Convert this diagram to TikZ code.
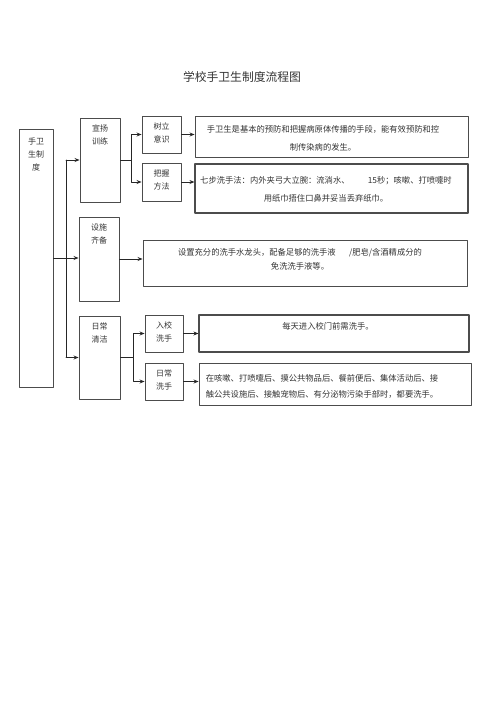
\documentclass[tikz,border=0pt]{standalone}
\usepackage{fontspec}
\newfontfamily\cjk{Noto Sans CJK SC}
\usetikzlibrary{arrows.meta}
\begin{document}
\begin{tikzpicture}[
		x=1pt,y=-1pt,
		>={Stealth[length=5pt,width=4pt]},
		line cap=round,
		line join=round,
		box/.style={draw=black!70,line width=0.9pt,inner sep=0pt},
		lbl/.style={font=\cjk\fontsize{8}{13}\selectfont,align=center,text=black!80,anchor=north,yshift=-4pt},
		desc/.style={font=\cjk\fontsize{8.3}{16}\selectfont,align=center,text=black!80,inner sep=0pt},
		link/.style={draw=black!85,line width=0.8pt}
		]
		\useasboundingbox (0,0) rectangle (500,707);
		\node[font=\cjk\fontsize{11.8}{14}\selectfont,text=black!80] (title) at (242,77) {学校手卫生制度流程图};
		% left column
		\node[box,minimum width=34pt,minimum height=258pt,label={[lbl,yshift=-2pt]north:{手卫\\生制\\度}}] (main) at (36,258) {};
		\node[box,minimum width=40pt,minimum height=84pt,label={[lbl]north:{宣扬\\训练}}] (xuan) at (100,160) {};
		\node[box,minimum width=40pt,minimum height=84pt,label={[lbl]north:{设施\\齐备}}] (sheshi) at (99,259) {};
		\node[box,minimum width=41pt,minimum height=83pt,label={[lbl]north:{日常\\清洁}}] (qingjie) at (99.5,357.5) {};
		% second column
		\node[box,minimum width=39pt,minimum height=37pt,label={[lbl]north:{树立\\意识}}] (shuli) at (161.5,134.5) {};
		\node[box,minimum width=39pt,minimum height=38pt,label={[lbl]north:{把握\\方法}}] (bawo) at (161.5,182) {};
		\node[box,minimum width=38pt,minimum height=37pt,label={[lbl]north:{入校\\洗手}}] (ruxiao) at (164,333.5) {};
		\node[box,minimum width=38pt,minimum height=37pt,label={[lbl]north:{日常\\洗手}}] (xishou) at (164,381.5) {};
		% text boxes
		\node[box,minimum width=273pt,minimum height=41pt] (d1) at (331.5,136.5) {};
		\node[box,line width=1.1pt,minimum width=273pt,minimum height=49pt] (d2) at (331.5,188.5) {};
		\node[box,minimum width=324pt,minimum height=46pt] (d3) at (305,263) {};
		\node[box,line width=1.1pt,minimum width=270pt,minimum height=37pt] (d4) at (334,333.5) {};
		\node[box,minimum width=272pt,minimum height=42pt] (d5) at (335,384) {};
		\node[desc,font=\cjk\fontsize{8.3}{18}\selectfont] (t1) at (323,138) {手卫生是基本的预防和把握病原体传播的手段，能有效预防和控\\制传染病的发生。};
		\node[desc,font=\cjk\fontsize{8.3}{18}\selectfont] (t2) at (326,189) {七步洗手法：内外夹弓大立腕：流淌水、\hspace{2.2em}15秒；咳嗽、打喷嚏时\\用纸巾捂住口鼻并妥当丢弃纸巾。};
		\node[desc,font=\cjk\fontsize{8.3}{14}\selectfont] (t3) at (300,259) {设置充分的洗手水龙头，配备足够的洗手液\hspace{1.6em}/肥皂/含酒精成分的\\免洗洗手液等。};
		\node[desc] (t4) at (328,326) {每天进入校门前需洗手。};
		\node[desc,align=left] (t5) at (322,386) {在咳嗽、打喷嚏后、摸公共物品后、餐前便后、集体活动后、接\\触公共设施后、接触宠物后、有分泌物污染手部时，都要洗手。};
		% connectors
		\coordinate (trunk) at (66,0);
		\coordinate (fork1) at (131,0);
		\coordinate (fork2) at (133,0);
		\begin{scope}[link]
		\draw[->] (main.east) -- (main.east -| sheshi.west);
		\draw (xuan.west -| trunk) -- (qingjie.west -| trunk);
		\draw[->] (xuan.west -| trunk) -- (xuan.west);
		\draw[->] (qingjie.west -| trunk) -- (qingjie.west);
		\draw (xuan.east) -- (xuan.east -| fork1);
		\draw[->] (xuan.east -| fork1) |- (shuli.west);
		\draw[->] (xuan.east -| fork1) |- (bawo.west);
		\draw[->] (shuli.east) -- (shuli.east -| d1.west);
		\draw[->] (bawo.east) -- (bawo.east -| d2.west);
		\draw[->] (sheshi.east) -- (sheshi.east -| d3.west);
		\draw (qingjie.east) -- (qingjie.east -| fork2);
		\draw[->] (qingjie.east -| fork2) |- (ruxiao.west);
		\draw[->] (qingjie.east -| fork2) |- (xishou.west);
		\draw[->] (ruxiao.east) -- (ruxiao.east -| d4.west);
		\draw[->] (xishou.east) -- (xishou.east -| d5.west);
		\end{scope}
		\end{tikzpicture}
\end{document}
